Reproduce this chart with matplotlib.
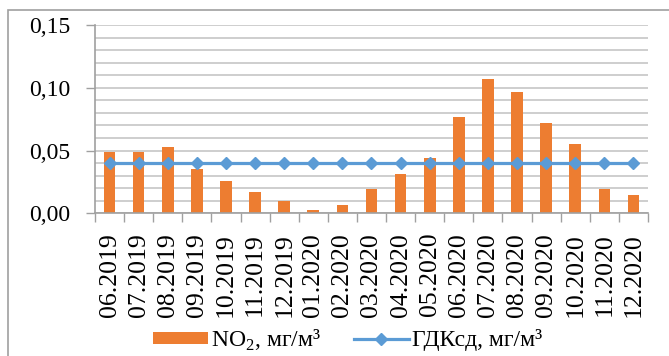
import matplotlib
matplotlib.use("Agg")
import matplotlib.pyplot as plt
from matplotlib.patches import Rectangle
from matplotlib.ticker import MultipleLocator, FuncFormatter

months = ["06.2019", "07.2019", "08.2019", "09.2019", "10.2019", "11.2019",
          "12.2019", "01.2020", "02.2020", "03.2020", "04.2020", "05.2020",
          "06.2020", "07.2020", "08.2020", "09.2020", "10.2020", "11.2020",
          "12.2020"]
no2 = [0.049, 0.049, 0.053, 0.035, 0.026, 0.017, 0.010, 0.003, 0.007,
       0.019, 0.031, 0.044, 0.0765, 0.107, 0.0965, 0.072, 0.0555, 0.019,
       0.0145]
gdk = [0.04] * len(months)

plt.rcParams["font.family"] = ["Liberation Serif", "DejaVu Serif"]
plt.rcParams["mathtext.fontset"] = "custom"
plt.rcParams["mathtext.rm"] = "Liberation Serif"

fig = plt.figure(figsize=(6.69, 3.56), dpi=100)
ax = fig.add_axes([0.142, 0.4008, 0.8266, 0.529])

x = list(range(len(months)))
bars = ax.bar(x, no2, width=0.4, color="#ED7D31", zorder=2,
              label="NO$_\\mathregular{2}$, мг/м³")
line, = ax.plot(x, gdk, color="#5B9BD5", lw=2.3, marker="D", ms=6.5, zorder=3,
                label="ГДКсд, мг/м³")

ax.set_xlim(-0.5, len(months) - 0.5)
ax.set_ylim(0, 0.15)
ax.yaxis.set_major_locator(MultipleLocator(0.05))
ax.yaxis.set_minor_locator(MultipleLocator(0.01))
ax.yaxis.set_major_formatter(FuncFormatter(lambda v, p: f"{v:.2f}".replace(".", ",")))
ax.grid(axis="y", which="both", color="#c6c6c6", lw=1.2, zorder=0)
ax.tick_params(axis="y", which="major", length=6.5, width=1, color="#a0a0a0",
               labelsize=17, pad=11)
ax.tick_params(axis="y", which="minor", length=0)

# category boundary ticks below, labels centred on each category
ax.set_xticks([i - 0.5 for i in range(len(months) + 1)])
ax.set_xticklabels([])
ax.set_xticks(x, minor=True)
ax.set_xticklabels(months, minor=True, rotation=90, fontsize=18.5, va="top")
ax.tick_params(axis="x", which="major", length=6.5, width=1, color="#a0a0a0")
ax.tick_params(axis="x", which="minor", length=0, pad=14)

for s in ["top", "right"]:
    ax.spines[s].set_visible(False)
for s in ["left", "bottom"]:
    ax.spines[s].set_color("#a0a0a0")
    ax.spines[s].set_linewidth(1.2)

ax.legend(handles=[bars, line], loc="center", bbox_to_anchor=(0.52, 0.045),
          bbox_transform=fig.transFigure, ncol=2, frameon=False, fontsize=17,
          handlelength=2.3, handleheight=0.45, handletextpad=0.15,
          columnspacing=1.4, borderpad=0)

fig.patches.append(Rectangle((8 / 669, -0.2), 1.2, 1.2 - 10 / 356,
                             transform=fig.transFigure, fill=False,
                             edgecolor="#a0a0a0", lw=1.2))

fig.savefig("out.png", dpi=100)
